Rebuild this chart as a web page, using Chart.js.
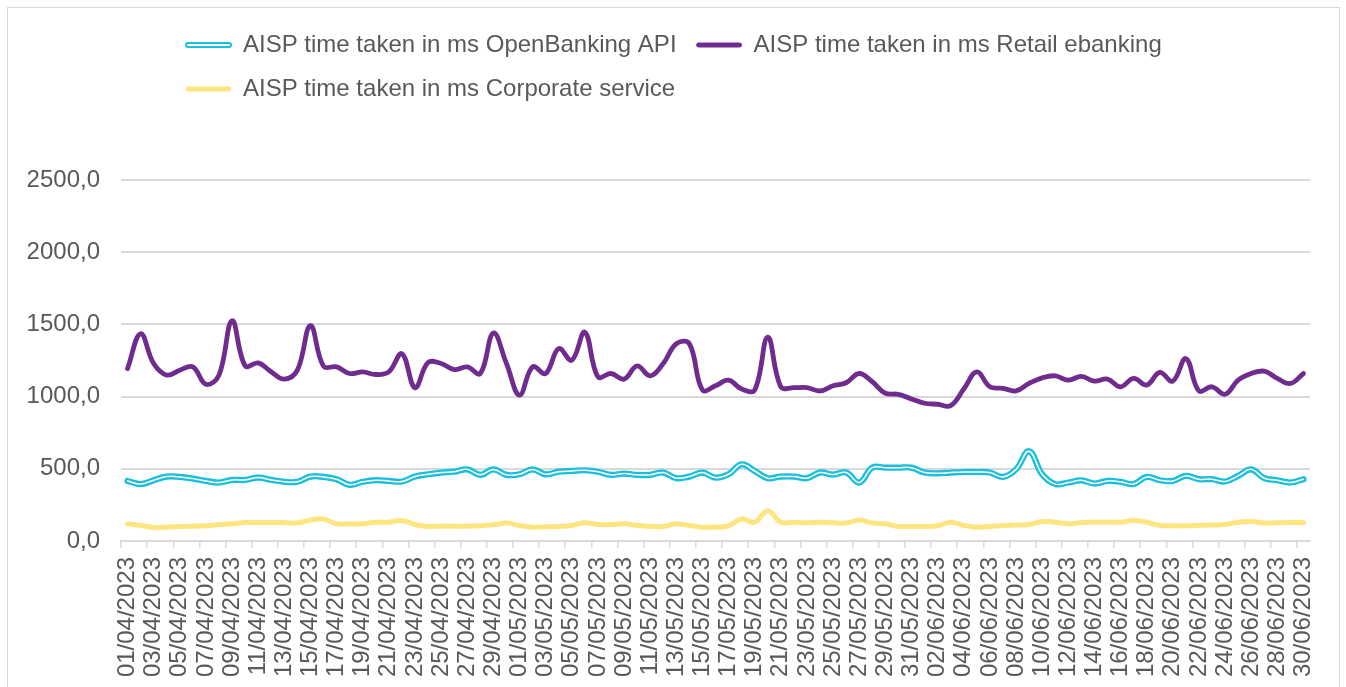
<!DOCTYPE html>
<html>
<head>
<meta charset="utf-8">
<script src="https://cdn.jsdelivr.net/npm/chart.js@4"></script>
<style>
  html, body { margin: 0; padding: 0; background: #fff; }
  #wrap { position: relative; width: 1346px; height: 687px; overflow: hidden; }
  #frame { position: absolute; left: 7px; top: 7px; width: 1331px; height: 700px; border: 1px solid #d9d9d9; pointer-events: none; }
</style>
</head>
<body>
<div id="wrap">
  <canvas id="chart" width="1346" height="687"></canvas>
  <div id="frame"></div>
</div>
<script>
(function () {
  "use strict";

  var days = [
    "01/04/2023", "02/04/2023", "03/04/2023", "04/04/2023", "05/04/2023", "06/04/2023", "07/04/2023", "08/04/2023",
    "09/04/2023", "10/04/2023", "11/04/2023", "12/04/2023", "13/04/2023", "14/04/2023", "15/04/2023", "16/04/2023",
    "17/04/2023", "18/04/2023", "19/04/2023", "20/04/2023", "21/04/2023", "22/04/2023", "23/04/2023", "24/04/2023",
    "25/04/2023", "26/04/2023", "27/04/2023", "28/04/2023", "29/04/2023", "30/04/2023",
    "01/05/2023", "02/05/2023", "03/05/2023", "04/05/2023", "05/05/2023", "06/05/2023", "07/05/2023", "08/05/2023",
    "09/05/2023", "10/05/2023", "11/05/2023", "12/05/2023", "13/05/2023", "14/05/2023", "15/05/2023", "16/05/2023",
    "17/05/2023", "18/05/2023", "19/05/2023", "20/05/2023", "21/05/2023", "22/05/2023", "23/05/2023", "24/05/2023",
    "25/05/2023", "26/05/2023", "27/05/2023", "28/05/2023", "29/05/2023", "30/05/2023", "31/05/2023",
    "01/06/2023", "02/06/2023", "03/06/2023", "04/06/2023", "05/06/2023", "06/06/2023", "07/06/2023", "08/06/2023",
    "09/06/2023", "10/06/2023", "11/06/2023", "12/06/2023", "13/06/2023", "14/06/2023", "15/06/2023", "16/06/2023",
    "17/06/2023", "18/06/2023", "19/06/2023", "20/06/2023", "21/06/2023", "22/06/2023", "23/06/2023", "24/06/2023",
    "25/06/2023", "26/06/2023", "27/06/2023", "28/06/2023", "29/06/2023", "30/06/2023"
  ];

  var seriesNames = [
    "AISP time taken in ms OpenBanking API",
    "AISP time taken in ms Retail ebanking",
    "AISP time taken in ms Corporate service"
  ];

  var openBanking = [
    416, 394, 421, 446, 444, 432, 416, 405, 423, 423, 439, 423, 410, 410, 446, 444, 428, 389, 410, 421,
    416, 412, 446, 462, 474, 480, 496, 458, 496, 458, 462, 496, 462, 480, 485, 490, 480, 458, 467, 458,
    458, 474, 435, 446, 474, 439, 462, 531, 485, 435, 446, 446, 435, 474, 460, 474, 405, 508, 508, 508,
    508, 474, 469, 474, 478, 478, 474, 444, 496, 622, 462, 394, 405, 420, 398, 416, 410, 394, 444, 421,
    416, 451, 428, 428, 412, 451, 496, 435, 421, 405, 428
  ];

  var retail = [
    1194, 1435, 1229, 1149, 1183, 1206, 1085, 1149, 1526, 1213, 1233, 1171, 1121, 1183, 1492, 1210, 1206, 1160, 1171, 1153,
    1171, 1297, 1062, 1236, 1229, 1187, 1206, 1160, 1441, 1229, 1011, 1206, 1160, 1332, 1252, 1446, 1137, 1160, 1121, 1213,
    1144, 1229, 1366, 1366, 1046, 1075, 1114, 1052, 1046, 1412, 1068, 1062, 1062, 1039, 1075, 1096, 1160, 1103, 1023, 1016,
    984, 954, 947, 938, 1052, 1171, 1068, 1057, 1039, 1091, 1130, 1144, 1114, 1140, 1107, 1121, 1068, 1126, 1080, 1167,
    1107, 1263, 1039, 1068, 1016, 1114, 1160, 1176, 1126, 1091, 1160
  ];

  var corporate = [
    119, 108, 94, 96, 101, 103, 105, 114, 119, 128, 128, 128, 128, 124, 146, 153, 119, 119, 119, 130,
    130, 142, 114, 101, 103, 103, 103, 105, 112, 124, 108, 96, 98, 101, 108, 126, 114, 114, 119, 108,
    101, 101, 119, 108, 96, 96, 105, 153, 130, 210, 130, 130, 126, 130, 126, 124, 146, 124, 119, 101,
    101, 101, 105, 130, 108, 96, 101, 108, 110, 114, 135, 130, 119, 128, 130, 130, 130, 142, 130, 108,
    105, 105, 108, 110, 114, 130, 135, 124, 126, 128, 128
  ];

  var FONT = "'Liberation Sans', Arial, sans-serif";
  var TEXT = "#595959";
  var GRID = "#d9d9d9";
  var CYAN = "#1bbfdc";
  var PURPLE = "#6f2c8e";
  var YELLOW = "#ffe57f";

  // Excel puts the legend rows flush left, not centred on the canvas
  var legendShift = {
    id: "legendShift",
    afterLayout: function (chart) {
      chart.legend.left = 166;
    }
  };

  new Chart(document.getElementById("chart"), {
    type: "line",
    data: {
      labels: days,
      datasets: [
        { label: seriesNames[0], data: openBanking, borderColor: CYAN, borderWidth: 6.2 },
        { label: seriesNames[1], data: retail, borderColor: PURPLE, borderWidth: 4.8 },
        { label: seriesNames[2], data: corporate, borderColor: YELLOW, borderWidth: 5 },
        // thin white core on top of the cyan line (double-line look)
        { label: "", data: openBanking, borderColor: "#ffffff", borderWidth: 1.5, order: -1 }
      ]
    },
    options: {
      responsive: false,
      animation: false,
      layout: { padding: { top: 13, left: 10, right: 36, bottom: 0 } },
      elements: {
        point: { radius: 0 },
        line: { tension: 0.4, borderCapStyle: "round", borderJoinStyle: "round", fill: false }
      },
      plugins: {
        tooltip: { enabled: false },
        legend: {
          align: "start",
          labels: {
            font: { family: FONT, size: 24 },
            color: TEXT,
            boxWidth: 45,
            boxHeight: 4,
            padding: 20,
            generateLabels: function (chart) {
              var items = Chart.defaults.plugins.legend.labels.generateLabels(chart);
              return items
                .filter(function (it) {
                  return it.text !== "";
                })
                .map(function (it) {
                  var ds = chart.data.datasets[it.datasetIndex];
                  if (it.datasetIndex === 0) {
                    it.fillStyle = "#ffffff";
                    it.strokeStyle = CYAN;
                    it.lineWidth = 2;
                  } else {
                    it.fillStyle = ds.borderColor;
                    it.strokeStyle = ds.borderColor;
                    it.lineWidth = 1;
                  }
                  it.borderRadius = 2;
                  return it;
                });
            }
          }
        },
        subtitle: {
          display: true,
          text: "",
          weight: 500,
          font: { size: 12, lineHeight: 1 },
          padding: { top: 0, bottom: 57 }
        }
      },
      scales: {
        x: {
          offset: true,
          grid: {
            offset: true,
            drawOnChartArea: false,
            tickLength: 7,
            lineWidth: 1.5,
            color: function (c) {
              return c.index % 2 === 0 ? GRID : "rgba(0,0,0,0)";
            }
          },
          border: { color: GRID, width: 2 },
          ticks: {
            autoSkip: false,
            minRotation: 90,
            maxRotation: 90,
            padding: 9,
            color: TEXT,
            font: { family: FONT, size: 24 },
            callback: function (v, i) {
              return i % 2 === 0 ? days[i] : "";
            }
          },
          afterFit: function (s) {
            s.height = 146;
          }
        },
        y: {
          min: 0,
          max: 2500,
          border: { display: false },
          grid: { color: GRID, lineWidth: 2, drawTicks: false },
          ticks: {
            stepSize: 500,
            padding: 21,
            color: TEXT,
            font: { family: FONT, size: 24 },
            callback: function (v) {
              return v.toFixed(1).replace(".", ",");
            }
          },
          afterFit: function (s) {
            s.width = 111;
          }
        }
      }
    },
    plugins: [legendShift]
  });
})();
</script>
</body>
</html>
